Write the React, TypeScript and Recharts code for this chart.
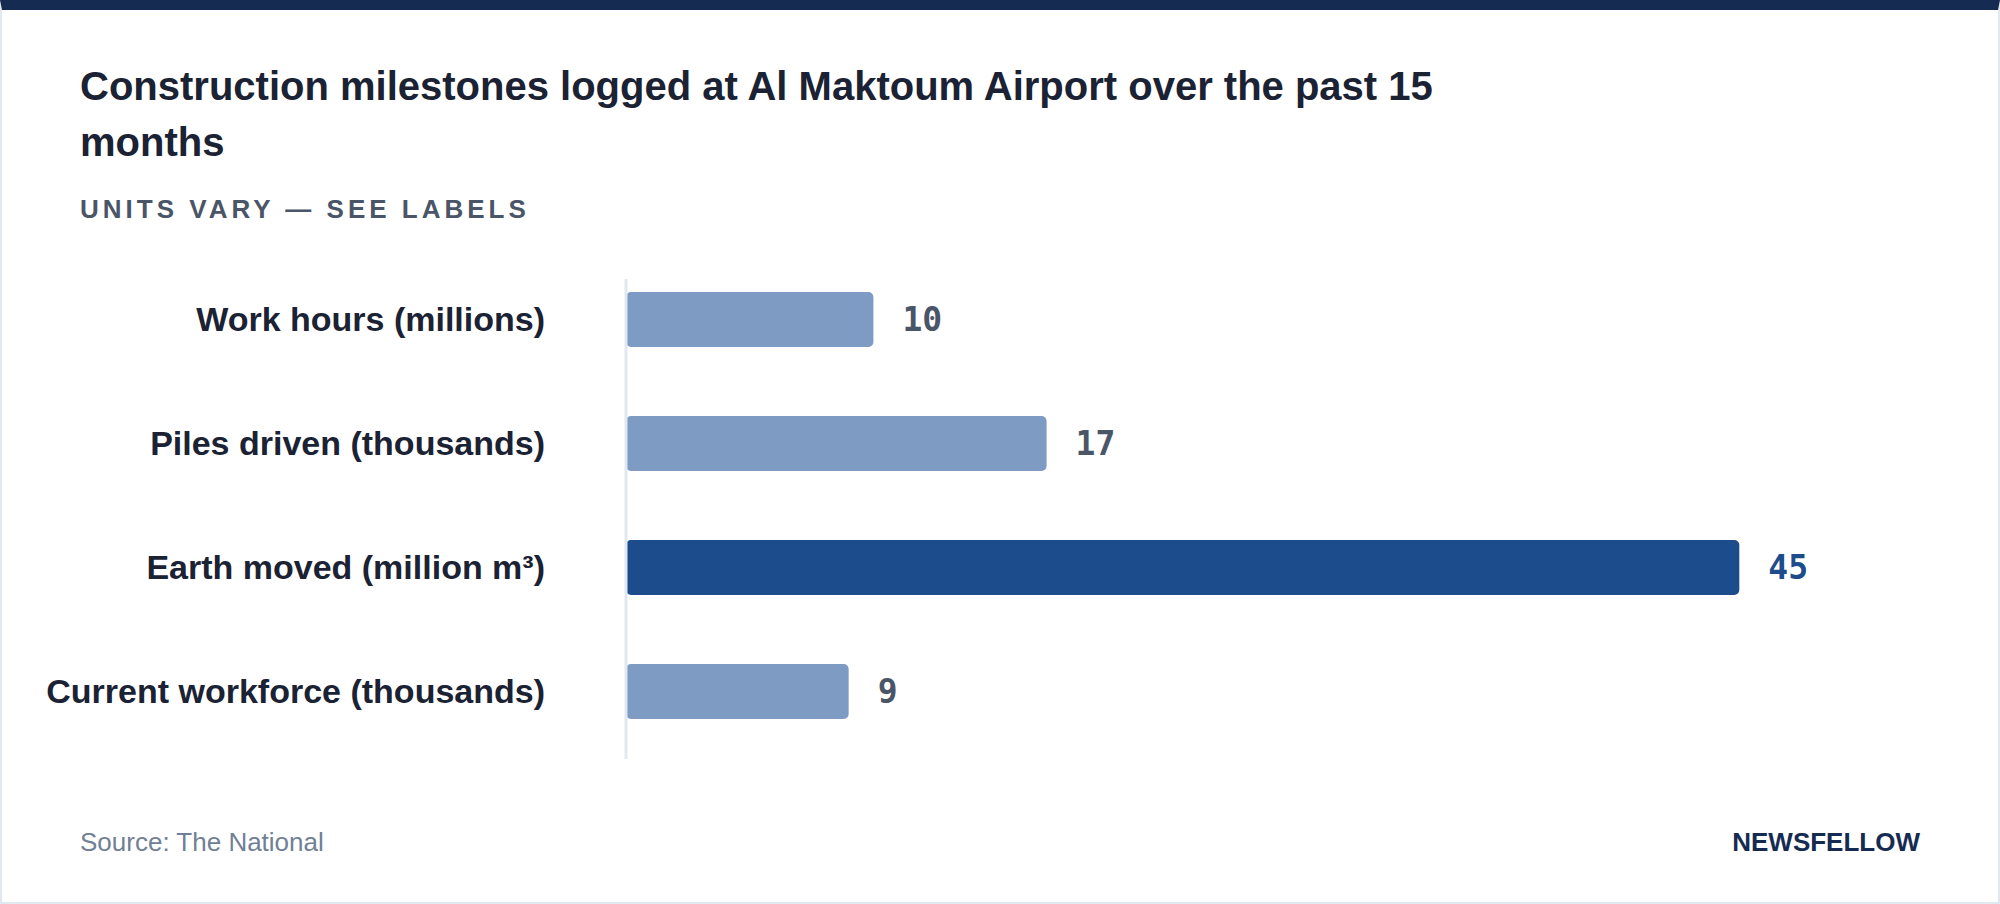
import React from "react";
import { Bar, BarChart, Cell, LabelList, XAxis, YAxis } from "recharts";

// milestone categories, top to bottom
const categories: string[] = [
  "Work hours (millions)",
  "Piles driven (thousands)",
  "Earth moved (million m³)",
  "Current workforce (thousands)"
];

const values: number[] = [10, 17, 45, 9];

const highlighted = "Earth moved (million m³)";

const data = categories.map((name, i) => ({ name, value: values[i] }));

const NAVY = "#152b52";
const INK = "#1a2233";
const SLATE = "#4a5568";
const BAR_LIGHT = "#7e9bc4";
const BAR_DARK = "#1c4c8c";
const RULE = "#e2e8f0";

type ValueLabelProps = {
  x?: number;
  y?: number;
  width?: number;
  height?: number;
  value?: number;
  index?: number;
};

const ValueLabel = ({ x = 0, y = 0, width = 0, height = 0, value, index = 0 }: ValueLabelProps) => {
  const isHot = categories[index] === highlighted;
  return (
    <text
      x={x + width + 29}
      y={y + height / 2}
      dominantBaseline="central"
      fill={isHot ? BAR_DARK : SLATE}
      fontFamily="'DejaVu Sans Mono', monospace"
      fontSize={33}
      fontWeight={700}
    >
      {value}
    </text>
  );
};

export default function App() {
  return (
    <div
      style={{
        width: 2000,
        height: 904,
        boxSizing: "border-box",
        background: "#ffffff",
        borderTop: `10px solid ${NAVY}`,
        borderLeft: `2px solid ${RULE}`,
        borderRight: `2px solid ${RULE}`,
        borderBottom: `2px solid ${RULE}`,
        padding: "0 78px",
        fontFamily: "'Liberation Sans', Arial, Helvetica, sans-serif",
        overflow: "hidden"
      }}
    >
      <style>{"body{margin:0}"}</style>
      <div
        style={{
          marginTop: 48,
          maxWidth: 1440,
          fontSize: 40,
          lineHeight: "56px",
          fontWeight: 700,
          color: INK
        }}
      >
        Construction milestones logged at Al Maktoum Airport over the past 15 months
      </div>
      <div
        style={{
          marginTop: 24,
          fontSize: 26,
          lineHeight: "30px",
          fontWeight: 700,
          letterSpacing: 4,
          color: SLATE
        }}
      >
        UNITS VARY — SEE LABELS
      </div>

      <div style={{ marginLeft: -78, width: 1996 }}>
        <BarChart
          width={1996}
          height={560}
          data={data}
          layout="vertical"
          margin={{ top: 55, right: 135, bottom: 25, left: 0 }}
        >
          <XAxis type="number" domain={[0, 50]} hide />
          <YAxis
            type="category"
            dataKey="name"
            width={624}
            padding={{ top: -22, bottom: 6 }}
            axisLine={{ stroke: RULE, strokeWidth: 3 }}
            tickLine={false}
            tickSize={0}
            tickMargin={81}
            tick={{ fill: INK, fontSize: 34, fontWeight: 700 }}
          />
          <Bar dataKey="value" barSize={55} radius={5} isAnimationActive={false}>
            {data.map((d) => (
              <Cell key={d.name} fill={d.name === highlighted ? BAR_DARK : BAR_LIGHT} />
            ))}
            <LabelList dataKey="value" content={<ValueLabel />} />
          </Bar>
        </BarChart>
      </div>

      <div
        style={{
          marginTop: 43,
          display: "flex",
          justifyContent: "space-between",
          fontSize: 26,
          lineHeight: "30px"
        }}
      >
        <span style={{ color: "#718096" }}>Source: The National</span>
        <span style={{ color: NAVY, fontWeight: 700 }}>NEWSFELLOW</span>
      </div>
    </div>
  );
}
